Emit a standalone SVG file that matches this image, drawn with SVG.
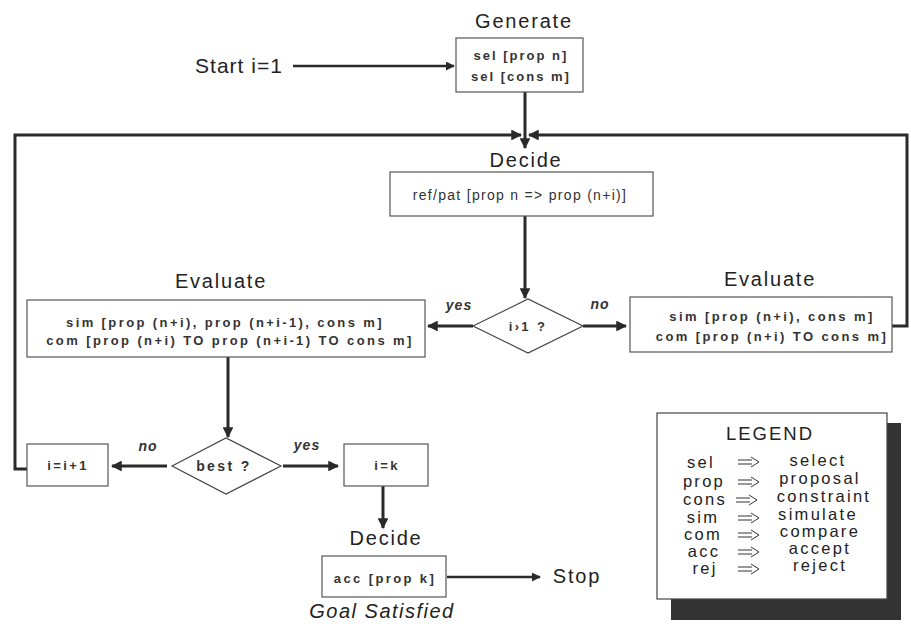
<svg xmlns="http://www.w3.org/2000/svg" width="911" height="624" viewBox="0 0 911 624">
  <style>
    .box { fill: #fff; stroke: #555; stroke-width: 1.2; }
    .dia { fill: #fff; stroke: #444; stroke-width: 1.2; }
    .title { font-family: "Liberation Sans", Arial, sans-serif; font-size: 20px; fill: #222; text-anchor: middle; letter-spacing: 1.8px; }
    .code { font-family: "Liberation Sans", Arial, sans-serif; font-size: 13px; font-weight: bold; fill: #333; text-anchor: middle; letter-spacing: 2.4px; }
    .lbl { font-family: "Liberation Sans", Arial, sans-serif; font-size: 14px; font-style: italic; font-weight: bold; fill: #333; text-anchor: middle; letter-spacing: 1px; }
    .leg { font-family: "Liberation Sans", Arial, sans-serif; font-size: 16.5px; fill: #222; text-anchor: middle; letter-spacing: 2.3px; }
    .wire { fill: none; stroke: #2a2a2a; stroke-width: 3; }
    .thin { fill: none; stroke: #2a2a2a; stroke-width: 2.5; }
    .harrow { fill: none; stroke: #333; stroke-width: 1; }
  </style>
  <defs>
    <marker id="ah" viewBox="0 0 10 10" refX="9" refY="5" markerWidth="3.6" markerHeight="3.6" orient="auto" markerUnits="strokeWidth">
      <path d="M0,0 L10,5 L0,10 Z" fill="#2a2a2a"/>
    </marker>
    <!-- hollow double arrow used in the legend -->
    <g id="dbl">
      <path class="harrow" d="M0,-2 H14 M0,2 H14 M13,-5 L21,0 L13,5"/>
    </g>
  </defs>

  <g id="connectors">
    <path class="thin" d="M293,66 H454" marker-end="url(#ah)"/>
    <path class="wire" d="M525,92 V135"/>
    <path class="wire" d="M27,469 H15 V135 H521" marker-end="url(#ah)"/>
    <path class="wire" d="M892,326 H907 V135 H529" marker-end="url(#ah)"/>
    <path class="wire" d="M525,135 V148" marker-end="url(#ah)"/>
    <path class="wire" d="M525,216 V298" marker-end="url(#ah)"/>
    <path class="wire" d="M473,326 H428" marker-end="url(#ah)"/>
    <path class="wire" d="M583,326 H626" marker-end="url(#ah)"/>
    <path class="wire" d="M228,357 V437" marker-end="url(#ah)"/>
    <path class="wire" d="M167,466 H112" marker-end="url(#ah)"/>
    <path class="wire" d="M283,466 H338" marker-end="url(#ah)"/>
    <path class="wire" d="M383,486 V528" marker-end="url(#ah)"/>
    <path class="thin" d="M447,577 H540" marker-end="url(#ah)"/>
  </g>

  <g id="start">
    <text class="title" x="239" y="73" style="font-size:21px;letter-spacing:1px">Start i=1</text>
  </g>

  <g id="generate">
    <text class="title" x="524" y="28">Generate</text>
    <rect class="box" x="456" y="38" width="127" height="54"/>
    <text class="code" x="521" y="60" style="letter-spacing:2px">sel [prop n]</text>
    <text class="code" x="521" y="81" style="letter-spacing:2px">sel [cons m]</text>
  </g>

  <g id="decide-ref">
    <text class="title" x="526" y="167">Decide</text>
    <rect class="box" x="390" y="172" width="263" height="44"/>
    <text class="code" x="520" y="200" style="font-size:14px;font-weight:normal;letter-spacing:1.3px">ref/pat [prop n =&gt; prop (n+i)]</text>
  </g>

  <g id="check-i">
    <polygon class="dia" points="473,326 528,299 583,326 528,353"/>
    <text class="code" x="528" y="331">i›1 ?</text>
    <text class="lbl" x="459" y="310">yes</text>
    <text class="lbl" x="600" y="309">no</text>
  </g>

  <g id="evaluate-left">
    <text class="title" x="221" y="288">Evaluate</text>
    <rect class="box" x="27" y="300" width="398" height="57"/>
    <text class="code" x="225" y="327">sim [prop (n+i), prop (n+i-1), cons m]</text>
    <text class="code" x="230" y="345">com [prop (n+i) TO prop (n+i-1) TO cons m]</text>
  </g>

  <g id="evaluate-right">
    <text class="title" x="770" y="286">Evaluate</text>
    <rect class="box" x="630" y="297" width="262" height="55"/>
    <text class="code" x="772" y="321">sim [prop (n+i), cons m]</text>
    <text class="code" x="772" y="341">com [prop (n+i) TO cons m]</text>
  </g>

  <g id="best">
    <polygon class="dia" points="172,466 226,438 281,466 226,494"/>
    <text class="code" x="224" y="471" style="font-size:14px">best ?</text>
    <text class="lbl" x="148" y="451">no</text>
    <text class="lbl" x="307" y="450">yes</text>
  </g>

  <g id="increment">
    <rect class="box" x="27" y="444" width="81" height="42"/>
    <text class="code" x="68" y="470">i=i+1</text>
  </g>

  <g id="assign-k">
    <rect class="box" x="344" y="444" width="84" height="42"/>
    <text class="code" x="387" y="470">i=k</text>
  </g>

  <g id="decide-acc">
    <text class="title" x="386" y="545">Decide</text>
    <rect class="box" x="322" y="556" width="124" height="41"/>
    <text class="code" x="385" y="583">acc [prop k]</text>
    <text class="title" x="382" y="618" style="font-style:italic;letter-spacing:1.5px">Goal Satisfied</text>
  </g>

  <g id="stop">
    <text class="title" x="577" y="583">Stop</text>
  </g>

  <g id="legend">
    <rect x="671" y="423" width="230" height="197" fill="#333"/>
    <rect x="657" y="413" width="230" height="186" fill="#fff" stroke="#444" stroke-width="1.2"/>
    <text class="leg" x="770" y="440" style="font-size:18.5px;letter-spacing:2px">LEGEND</text>
    <g>
      <text class="leg" x="701" y="468">sel</text>
      <use href="#dbl" x="738" y="462"/>
      <text class="leg" x="818" y="466">select</text>
      <text class="leg" x="704" y="487">prop</text>
      <use href="#dbl" x="738" y="482"/>
      <text class="leg" x="820" y="484">proposal</text>
      <text class="leg" x="705" y="505">cons</text>
      <use href="#dbl" x="736" y="500"/>
      <text class="leg" x="824" y="502">constraint</text>
      <text class="leg" x="703" y="523">sim</text>
      <use href="#dbl" x="738" y="518"/>
      <text class="leg" x="818" y="520">simulate</text>
      <text class="leg" x="703" y="540">com</text>
      <use href="#dbl" x="738" y="535"/>
      <text class="leg" x="820" y="537">compare</text>
      <text class="leg" x="704" y="557">acc</text>
      <use href="#dbl" x="738" y="552"/>
      <text class="leg" x="820" y="554">accept</text>
      <text class="leg" x="705" y="574">rej</text>
      <use href="#dbl" x="738" y="569"/>
      <text class="leg" x="820" y="571">reject</text>
    </g>
  </g>
</svg>
